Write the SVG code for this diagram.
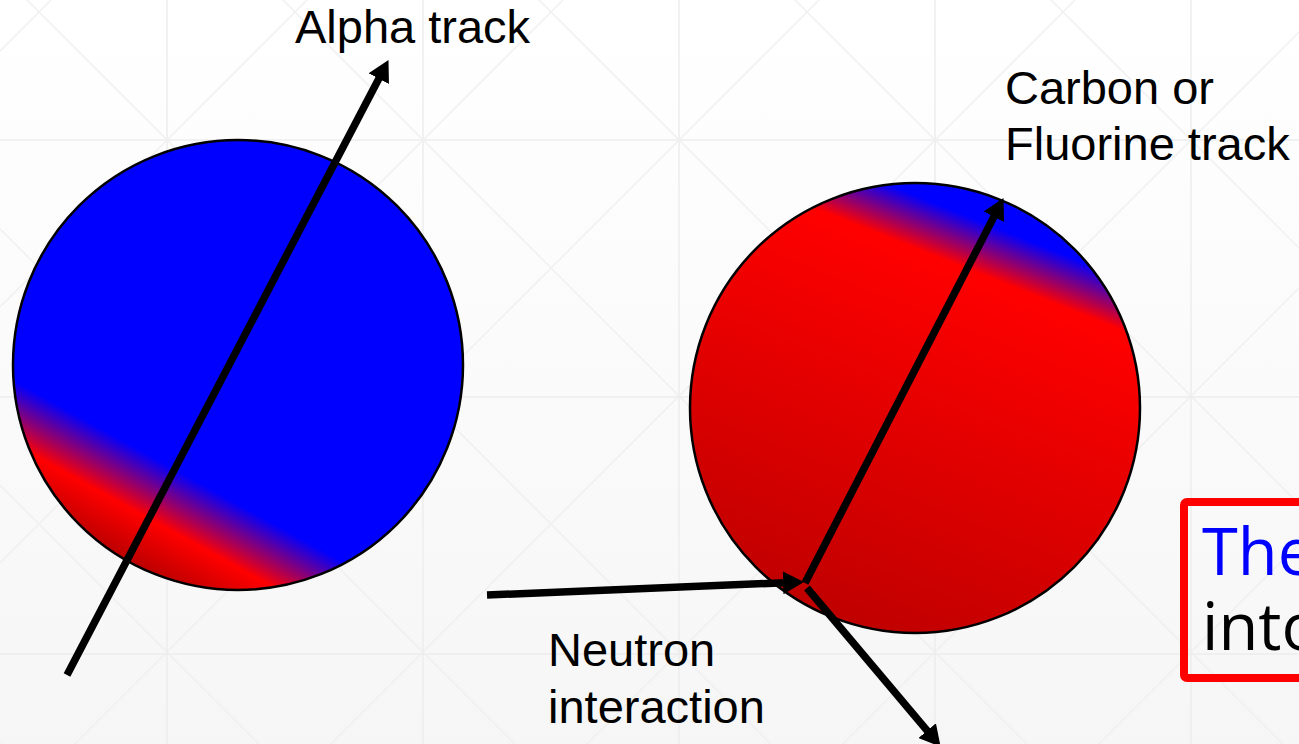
<svg xmlns="http://www.w3.org/2000/svg" width="1299" height="744" viewBox="0 0 1299 744">
  <style>
    .grid { fill: none; stroke: #ededed; stroke-width: 1.5; }
    .ball { stroke: #000; stroke-width: 2.5; }
    .track { fill: none; stroke: #000; stroke-width: 7.5; stroke-linecap: butt; marker-end: url(#head); }
    .label { font-family: "Liberation Sans", Arial, sans-serif; font-size: 47px; fill: #000; }
    .note { font-family: "Open Sans", "Liberation Sans", sans-serif; font-size: 65px; }
  </style>
  <defs>
    <linearGradient id="bg" x1="0" y1="0" x2="0" y2="1">
      <stop offset="0" stop-color="#ffffff"/>
      <stop offset="1" stop-color="#f6f6f6"/>
    </linearGradient>
    <linearGradient id="gradAlpha" gradientUnits="userSpaceOnUse" x1="346.5" y1="168" x2="129.5" y2="562">
      <stop offset="0" stop-color="#0000ff"/>
      <stop offset="0.77" stop-color="#0000ff"/>
      <stop offset="0.895" stop-color="#ff0000"/>
      <stop offset="1" stop-color="#bb0000"/>
    </linearGradient>
    <linearGradient id="gradCarbon" gradientUnits="userSpaceOnUse" x1="998" y1="199" x2="832" y2="617">
      <stop offset="0" stop-color="#0000ff"/>
      <stop offset="0.06" stop-color="#0000ff"/>
      <stop offset="0.17" stop-color="#ff0000"/>
      <stop offset="1" stop-color="#c00000"/>
    </linearGradient>
    <marker id="head" viewBox="0 0 21 23" refX="2" refY="11.5" markerWidth="21" markerHeight="23" markerUnits="userSpaceOnUse" orient="auto">
      <path d="M0,0 L21,11.5 L0,23 Z" fill="#000"/>
    </marker>
  </defs>

  <g id="background">
    <rect x="0" y="0" width="1299" height="744" fill="url(#bg)"/>
    <path class="grid" d="M167,0V744 M423,0V744 M679,0V744 M935,0V744 M1191,0V744 M0,140H1299 M0,397H1299 M0,654H1299"/>
    <path class="grid" stroke-opacity="0.8" d="M1051,0L1795,744 M795,0L1539,744 M539,0L1283,744 M283,0L1027,744 M27,0L771,744 M0,229L515,744 M0,485L259,744 M0,741L3,744 M0,51L51,0 M0,307L307,0 M0,563L563,0 M0,819L819,0 M0,1075L1075,0 M0,1331L1331,0 M0,1587L1587,0 M0,1843L1843,0"/>
  </g>

  <g id="alpha-ball">
    <circle class="ball" cx="238" cy="365" r="225" fill="url(#gradAlpha)"/>
  </g>

  <g id="carbon-ball">
    <circle class="ball" cx="915" cy="408" r="225" fill="url(#gradCarbon)"/>
  </g>

  <g id="connectors">
    <line class="track" x1="67" y1="675" x2="379.7" y2="76.9"/>
    <line class="track" x1="805" y1="583" x2="994.8" y2="215"/>
    <line class="track" x1="487" y1="595" x2="785" y2="582.7"/>
    <line class="track" x1="807" y1="588" x2="928.4" y2="732.2"/>
  </g>

  <g id="label-alpha">
    <text class="label" x="295" y="43">Alpha track</text>
  </g>
  <g id="label-carbon">
    <text class="label" x="1005" y="104">Carbon or</text>
    <text class="label" x="1005" y="160">Fluorine track</text>
  </g>
  <g id="label-neutron">
    <text class="label" x="548" y="666">Neutron</text>
    <text class="label" x="548" y="723">interaction</text>
  </g>

  <g id="note">
    <rect x="1184" y="502" width="200" height="176" rx="3" fill="none" stroke="#ff0000" stroke-width="8"/>
    <text class="note" x="1202" y="575" fill="#0000ff">The</text>
    <text class="note" x="1202" y="650" fill="#000">into</text>
  </g>
</svg>
